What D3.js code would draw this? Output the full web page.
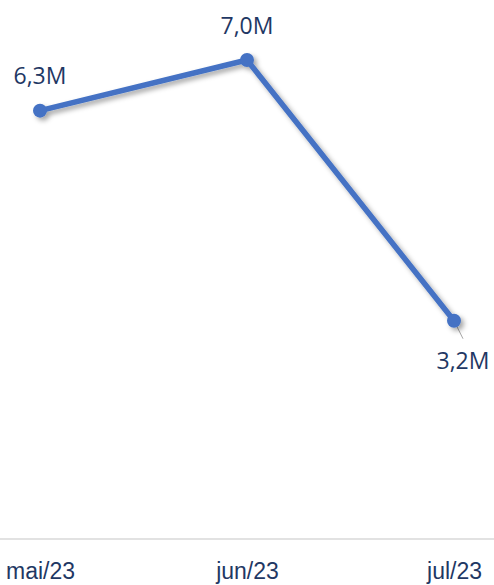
<!DOCTYPE html>
<html>
<head>
<meta charset="utf-8">
<script src="https://cdnjs.cloudflare.com/ajax/libs/d3/7.8.5/d3.min.js"></script>
<style>
    body { margin: 0; background: #fff; }
    svg { display: block; font-family: "Open Sans", "Noto Sans", sans-serif; }
</style>
</head>
<body>
<div class="canvas-container"></div>
<script>
var months = ["mai/23", "jun/23", "jul/23"];
var values = [6.26, 7.0, 3.19];
var labels = ["6,3M", "7,0M", "3,2M"];

(function () {
    "use strict";

    var width = 494, height = 585;
    var baseline = 539;

    var svg = d3.select("div.canvas-container")
        .append("svg")
        .attr("width", width)
        .attr("height", height);

    var defs = svg.append("defs");
    var f = defs.append("filter")
        .attr("id", "shadow")
        .attr("x", "-20%").attr("y", "-20%")
        .attr("width", "140%").attr("height", "140%");
    f.append("feDropShadow")
        .attr("dx", 3).attr("dy", 3)
        .attr("stdDeviation", 2.5)
        .attr("flood-color", "#000")
        .attr("flood-opacity", 0.35);

    var x = d3.scalePoint().domain(months).range([40, 454]);
    var y = d3.scaleLinear().domain([0, 7]).range([baseline, 60]);

    var data = months.map(function (m, i) {
        return { month: m, value: values[i], label: labels[i] };
    });

    // x axis
    var xAxis = svg.append("g")
        .attr("transform", "translate(0," + baseline + ")")
        .call(d3.axisBottom(x).tickSize(0).tickPadding(0));
    xAxis.select(".domain").remove();
    xAxis.append("line")
        .attr("x1", 0).attr("x2", width)
        .attr("stroke", "#d9d9d9").attr("stroke-width", 1.5);
    xAxis.selectAll(".tick text")
        .attr("dy", null)
        .attr("y", 40)
        .attr("fill", "#1f3864")
        .style("font-size", "23px");

    // leader line for last label
    var last = data[2];
    svg.append("line")
        .attr("x1", x(last.month)).attr("y1", y(last.value))
        .attr("x2", x(last.month) + 9).attr("y2", y(last.value) + 18)
        .attr("stroke", "#a6a6a6").attr("stroke-width", 1);

    var g = svg.append("g").attr("filter", "url(#shadow)");

    var line = d3.line()
        .x(function (d) { return x(d.month); })
        .y(function (d) { return y(d.value); });

    g.append("path")
        .datum(data)
        .attr("d", line)
        .attr("fill", "none")
        .attr("stroke", "#4472c4")
        .attr("stroke-width", 5.5)
        .attr("stroke-linejoin", "round");

    g.selectAll("circle")
        .data(data)
        .enter()
        .append("circle")
        .attr("cx", function (d) { return x(d.month); })
        .attr("cy", function (d) { return y(d.value); })
        .attr("r", 7)
        .attr("fill", "#4472c4");

    var offsets = [[0, -27], [0, -26], [9, 48]];
    svg.selectAll("text.lbl")
        .data(data)
        .enter()
        .append("text")
        .attr("class", "lbl")
        .attr("x", function (d, i) { return x(d.month) + offsets[i][0]; })
        .attr("y", function (d, i) { return y(d.value) + offsets[i][1]; })
        .attr("text-anchor", "middle")
        .attr("fill", "#1f3864")
        .style("font-size", "23px")
        .text(function (d) { return d.label; });
})();
</script>
</body>
</html>
